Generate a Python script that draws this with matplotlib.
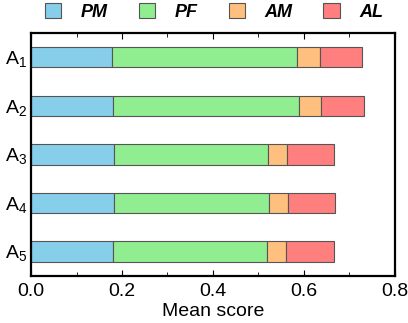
import matplotlib
matplotlib.use("Agg")
import matplotlib.pyplot as plt
import numpy as np
from matplotlib.ticker import MultipleLocator

# Data
labels = ["A$_1$", "A$_2$", "A$_3$", "A$_4$", "A$_5$"]
series = ["PM", "PF", "AM", "AL"]
pm = [0.179, 0.181, 0.182, 0.182, 0.180]
pf = [0.406, 0.408, 0.340, 0.341, 0.339]
am = [0.051, 0.049, 0.041, 0.043, 0.041]
al = [0.092, 0.093, 0.104, 0.103, 0.105]
colors = ["#87CEEB", "#90EE90", "#FFBF7F", "#FF7F7F"]

plt.rcParams["font.family"] = ["Liberation Sans", "DejaVu Sans"]
plt.rcParams["mathtext.fontset"] = "custom"
plt.rcParams["mathtext.rm"] = "Liberation Sans"
plt.rcParams["font.size"] = 14

fig = plt.figure(figsize=(4.08, 3.23), dpi=100)
ax = fig.add_axes([0.076, 0.146, 0.892, 0.752])

y = np.arange(len(labels))
left = np.zeros(len(labels))
for name, vals, c in zip(series, [pm, pf, am, al], colors):
    ax.barh(y, vals, left=left, height=0.42, color=c, edgecolor="#555555",
            linewidth=0.8, label=name)
    left += np.array(vals)

ax.set_yticks(y)
ax.set_yticklabels(labels)
ax.set_ylim(4.5, -0.5)
ax.set_xlim(0, 0.8)
ax.xaxis.set_major_locator(MultipleLocator(0.2))
ax.xaxis.set_minor_locator(MultipleLocator(0.1))
ax.tick_params(axis="x", which="both", direction="in", top=True, labelsize=14, pad=5)
ax.tick_params(axis="x", which="major", length=4)
ax.tick_params(axis="x", which="minor", length=3)
ax.tick_params(axis="y", length=0, labelsize=14, pad=3)
ax.set_xlabel("Mean score", fontsize=14, labelpad=2)
for s in ax.spines.values():
    s.set_linewidth(1.6)

leg = fig.legend(loc="center", bbox_to_anchor=(0.525, 0.962), ncol=4, frameon=False,
                 handlelength=0.9, handleheight=0.9, columnspacing=1.7,
                 handletextpad=1.1, prop={"weight": "bold", "style": "italic", "size": 13})

fig.savefig("out.png", dpi=100)
